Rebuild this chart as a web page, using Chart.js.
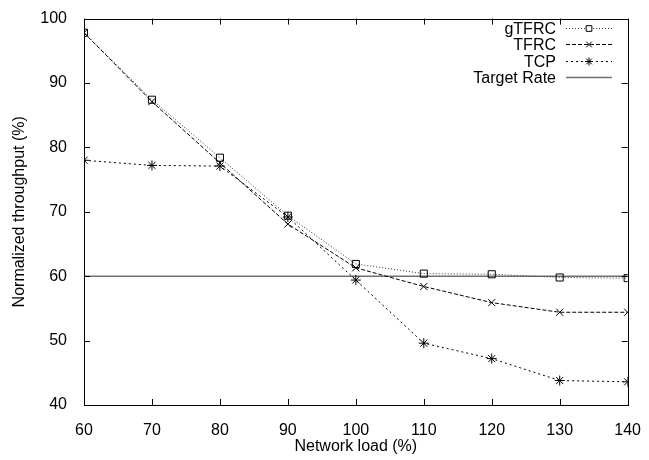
<!DOCTYPE html>
<html>
<head>
<meta charset="utf-8">
<script src="https://cdn.jsdelivr.net/npm/chart.js@4.4.0/dist/chart.umd.min.js"></script>
<style>
  html, body { margin: 0; padding: 0; background: #fff; }
  #chart { display: block; }
</style>
</head>
<body>
<canvas id="chart" width="649" height="460"></canvas>
<script>
// Данные графика
const loads = [60, 70, 80, 90, 100, 110, 120, 130, 140];
const gtfrc = [97.8, 87.4, 78.4, 69.4, 61.9, 60.4, 60.3, 59.8, 59.7];
const tfrc = [97.8, 87.1, 77.6, 68.1, 61.3, 58.4, 55.9, 54.4, 54.4];
const tcp = [78.0, 77.2, 77.1, 69.2, 59.4, 49.6, 47.2, 43.8, 43.6];
const targetRate = [60, 60, 60, 60, 60, 60, 60, 60, 60];
const xTicks = [60, 70, 80, 90, 100, 110, 120, 130, 140];
const yTicks = [40, 50, 60, 70, 80, 90, 100];

const FONT = "'Liberation Sans', Arial, Helvetica, sans-serif";

function toPoints(values) {
  return loads.map((x, i) => ({x: x, y: values[i]}));
}

// Рамка и внутренние засечки на всех четырёх сторонах
const framePlugin = {
  id: 'frame',
  afterDatasetsDraw(chart) {
    const {ctx, chartArea: a, scales} = chart;
    const t = 6;
    ctx.save();
    ctx.strokeStyle = '#000';
    ctx.lineWidth = 1;
    ctx.beginPath();
    xTicks.forEach(v => {
      const px = Math.round(scales.x.getPixelForValue(v)) + 0.5;
      ctx.moveTo(px, a.bottom); ctx.lineTo(px, a.bottom - t);
      ctx.moveTo(px, a.top); ctx.lineTo(px, a.top + t);
    });
    yTicks.forEach(v => {
      const py = Math.round(scales.y.getPixelForValue(v)) + 0.5;
      ctx.moveTo(a.left, py); ctx.lineTo(a.left + t, py);
      ctx.moveTo(a.right, py); ctx.lineTo(a.right - t, py);
    });
    ctx.stroke();
    ctx.strokeRect(Math.round(a.left) + 0.5, Math.round(a.top) + 0.5,
      Math.round(a.right - a.left), Math.round(a.bottom - a.top));
    ctx.restore();
  }
};

// Легенда в стиле gnuplot: текст справа налево, образец линии справа
const legendPlugin = {
  id: 'gnuLegend',
  afterDraw(chart) {
    const {ctx} = chart;
    const textRight = 556, x0 = 566, x1 = 612, top = 28, step = 16.4;
    ctx.save();
    ctx.font = '16px ' + FONT;
    ctx.textAlign = 'right';
    ctx.textBaseline = 'middle';
    chart.data.datasets.forEach((ds, i) => {
      const y = Math.round(top + i * step) + 0.5;
      ctx.fillStyle = '#000';
      ctx.fillText(ds.label, textRight, y + 1);
      ctx.strokeStyle = ds.borderColor;
      ctx.lineWidth = ds.borderWidth;
      ctx.setLineDash(ds.borderDash || []);
      ctx.beginPath();
      ctx.moveTo(x0, y);
      ctx.lineTo(x1, y);
      ctx.stroke();
      ctx.setLineDash([]);
      if (ds.pointRadius > 0) {
        ctx.strokeStyle = '#000';
        ctx.fillStyle = '#fff';
        Chart.helpers.drawPoint(ctx, {
          pointStyle: ds.pointStyle,
          radius: 4,
          borderWidth: 1
        }, (x0 + x1) / 2, y);
      }
    });
    ctx.restore();
  }
};

new Chart(document.getElementById('chart'), {
  type: 'line',
  data: {
    datasets: [
      {
        label: 'gTFRC',
        data: toPoints(gtfrc),
        borderColor: '#333',
        borderWidth: 1,
        borderDash: [1, 2],
        pointStyle: 'rect',
        pointRadius: 5,
        pointBorderColor: '#000',
        pointBackgroundColor: 'rgba(0,0,0,0)',
        pointBorderWidth: 1
      },
      {
        label: 'TFRC',
        data: toPoints(tfrc),
        borderColor: '#000',
        borderWidth: 1,
        borderDash: [4, 2],
        pointStyle: 'crossRot',
        pointRadius: 5,
        pointBorderColor: '#000',
        pointBorderWidth: 1
      },
      {
        label: 'TCP',
        data: toPoints(tcp),
        borderColor: '#000',
        borderWidth: 1,
        borderDash: [2, 3],
        pointStyle: 'star',
        pointRadius: 5,
        pointBorderColor: '#000',
        pointBorderWidth: 1
      },
      {
        label: 'Target Rate',
        data: toPoints(targetRate),
        borderColor: '#707070',
        borderWidth: 1.5,
        pointRadius: 0
      }
    ]
  },
  options: {
    responsive: false,
    animation: false,
    devicePixelRatio: 1,
    layout: {padding: {top: 14, right: 16, left: 0, bottom: 0}},
    plugins: {
      legend: {display: false},
      tooltip: {enabled: false}
    },
    scales: {
      x: {
        type: 'linear',
        min: 60,
        max: 140,
        afterFit: function(scale) { scale.height = 55; },
        afterBuildTicks: function(scale) { scale.ticks = xTicks.map(v => ({value: v})); },
        grid: {display: false},
        border: {display: false},
        ticks: {
          color: '#000',
          font: {family: FONT, size: 16},
          padding: 8,
          maxRotation: 0
        },
        title: {
          display: true,
          text: 'Network load (%)',
          color: '#000',
          font: {family: FONT, size: 16},
          padding: {top: 0, bottom: 4}
        }
      },
      y: {
        type: 'linear',
        min: 40,
        max: 100,
        afterFit: function(scale) { scale.width = 84; },
        afterBuildTicks: function(scale) { scale.ticks = yTicks.map(v => ({value: v})); },
        grid: {display: false},
        border: {display: false},
        ticks: {
          color: '#000',
          font: {family: FONT, size: 16},
          padding: 9
        },
        title: {
          display: true,
          text: 'Normalized throughput (%)',
          color: '#000',
          font: {family: FONT, size: 16},
          padding: {top: 10, bottom: 0}
        }
      }
    }
  },
  plugins: [framePlugin, legendPlugin]
});
</script>
</body>
</html>
